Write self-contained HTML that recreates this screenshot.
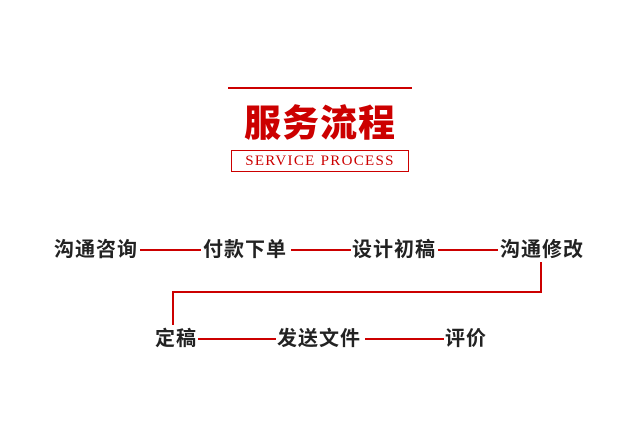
<!DOCTYPE html>
<html><head><meta charset="utf-8"><style>
body{margin:0;width:640px;height:441px;background:#fff;position:relative;overflow:hidden;font-family:"Liberation Sans","Noto Sans CJK SC",sans-serif}
.a{position:absolute}
.t{position:absolute;font-size:20px;font-weight:bold;color:#222;line-height:22px;letter-spacing:1px;white-space:nowrap}
.h{position:absolute;height:2px;background:#c00}
.v{position:absolute;width:2px;background:#c00}
</style></head><body>
<div class="h" style="left:228px;top:87px;width:184px"></div>
<div class="a" style="left:228px;top:104px;width:184px;text-align:center;font-size:37px;font-weight:900;color:#c00;line-height:40px;letter-spacing:1px;white-space:nowrap">服务流程</div>
<div class="a" style="left:231px;top:150px;width:176px;height:20px;border:1px solid #c00;text-align:center;font-family:'Liberation Serif',serif;font-size:15px;line-height:20px;color:#c00;letter-spacing:1.3px;white-space:nowrap">SERVICE PROCESS</div>

<div class="t" style="left:54px;top:239px">沟通咨询</div>
<div class="h" style="left:140px;top:249px;width:61px"></div>
<div class="t" style="left:203px;top:239px">付款下单</div>
<div class="h" style="left:291px;top:249px;width:60px"></div>
<div class="t" style="left:352px;top:239px">设计初稿</div>
<div class="h" style="left:438px;top:249px;width:60px"></div>
<div class="t" style="left:500px;top:239px">沟通修改</div>

<div class="v" style="left:540px;top:262px;height:31px"></div>
<div class="h" style="left:172px;top:291px;width:370px"></div>
<div class="v" style="left:172px;top:291px;height:34px"></div>

<div class="t" style="left:155px;top:328px">定稿</div>
<div class="h" style="left:198px;top:338px;width:78px"></div>
<div class="t" style="left:277px;top:328px">发送文件</div>
<div class="h" style="left:365px;top:338px;width:79px"></div>
<div class="t" style="left:445px;top:328px">评价</div>
</body></html>
